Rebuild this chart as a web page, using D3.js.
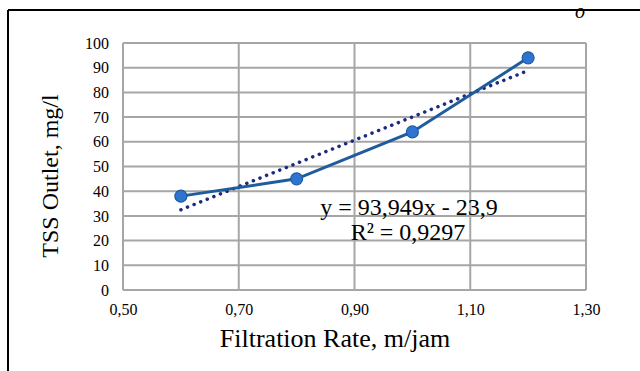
<!DOCTYPE html>
<html>
<head>
<meta charset="utf-8">
<script src="https://cdn.jsdelivr.net/npm/d3@7"></script>
<style>
  body { margin: 0; background: #fff; }
  svg { display: block; font-family: "Liberation Serif", "Times New Roman", serif; }
</style>
</head>
<body>
<svg id="chart" width="640" height="371"></svg>
<script>
// data
const rates = [0.6, 0.8, 1.0, 1.2];
const tssOut = [38, 45, 64, 94];
const xTicks = [0.5, 0.7, 0.9, 1.1, 1.3];
const yTicks = [0, 10, 20, 30, 40, 50, 60, 70, 80, 90, 100];
const trendSlope = 93.949;
const trendIntercept = -23.9;
const eqLines = ['y = 93,949x - 23,9', 'R\u00b2 = 0,9297'];

const svg = d3.select('#chart');
const margin = { top: 43, right: 54, bottom: 81, left: 123 };
const width = 640 - margin.left - margin.right;
const height = 371 - margin.top - margin.bottom;

// outer frame: only top and left visible
svg.append('line').attr('x1', 8).attr('x2', 640).attr('y1', 10).attr('y2', 10)
   .attr('stroke', '#000').attr('stroke-width', 2);
svg.append('line').attr('x1', 8).attr('x2', 8).attr('y1', 10).attr('y2', 371)
   .attr('stroke', '#000').attr('stroke-width', 2);
svg.append('text').attr('x', 580).attr('y', 18).attr('font-size', 20)
   .attr('font-style', 'italic').attr('text-anchor', 'middle').text('o');

const g = svg.append('g').attr('transform', `translate(${margin.left},${margin.top})`);

const x = d3.scaleLinear().domain([0.5, 1.3]).range([0, width]);
const y = d3.scaleLinear().domain([0, 100]).range([height, 0]);

// gridlines
g.append('g').selectAll('line').data(yTicks).join('line')
  .attr('x1', 0).attr('x2', width)
  .attr('y1', d => y(d)).attr('y2', d => y(d))
  .attr('stroke', '#a6a6a6').attr('stroke-width', 2);
g.append('g').selectAll('line').data(xTicks).join('line')
  .attr('x1', d => x(d)).attr('x2', d => x(d))
  .attr('y1', 0).attr('y2', height)
  .attr('stroke', '#a6a6a6').attr('stroke-width', 2);

// axes (labels only)
const xAxis = g.append('g').attr('transform', `translate(0,${height})`)
  .call(d3.axisBottom(x).tickValues(xTicks).tickSize(0).tickPadding(14)
    .tickFormat(d => d3.format('.2f')(d).replace('.', ',')));
const yAxis = g.append('g')
  .call(d3.axisLeft(y).tickValues(yTicks).tickSize(0).tickPadding(14));
[xAxis, yAxis].forEach(a => {
  a.select('.domain').remove();
  a.selectAll('text').attr('font-size', 16).attr('fill', '#000')
    .attr('font-family', '"Liberation Serif", serif');
});

// trendline (dotted)
const trend = [rates[0], rates[rates.length - 1]].map(r => [r, trendSlope * r + trendIntercept]);
g.append('line')
  .attr('x1', x(trend[0][0])).attr('y1', y(trend[0][1]))
  .attr('x2', x(trend[1][0])).attr('y2', y(trend[1][1]))
  .attr('stroke', '#1c2a80').attr('stroke-width', 3.5)
  .attr('stroke-dasharray', '0.1 7').attr('stroke-linecap', 'round');

// series line + markers
const pts = rates.map((r, i) => [r, tssOut[i]]);
g.append('path').datum(pts)
  .attr('d', d3.line().x(d => x(d[0])).y(d => y(d[1])))
  .attr('fill', 'none').attr('stroke', '#1f5c9e').attr('stroke-width', 3);
g.selectAll('.pt').data(pts).join('circle').attr('class', 'pt')
  .attr('cx', d => x(d[0])).attr('cy', d => y(d[1])).attr('r', 6)
  .attr('fill', '#2e74d0').attr('stroke', '#1f5c9e').attr('stroke-width', 1.2);

// equation label
svg.append('text').attr('x', 409).attr('y', 215).attr('font-size', 24)
  .attr('text-anchor', 'middle').text(eqLines[0]);
svg.append('text').attr('x', 408).attr('y', 240).attr('font-size', 24)
  .attr('text-anchor', 'middle').text(eqLines[1]);

// axis titles
svg.append('text').attr('x', 335).attr('y', 347)
  .attr('font-size', 26).attr('text-anchor', 'middle').text('Filtration Rate, m/jam');
svg.append('text').attr('transform', 'translate(58,176) rotate(-90)')
  .attr('font-size', 24).attr('text-anchor', 'middle').text('TSS Outlet, mg/l');
</script>
</body>
</html>
